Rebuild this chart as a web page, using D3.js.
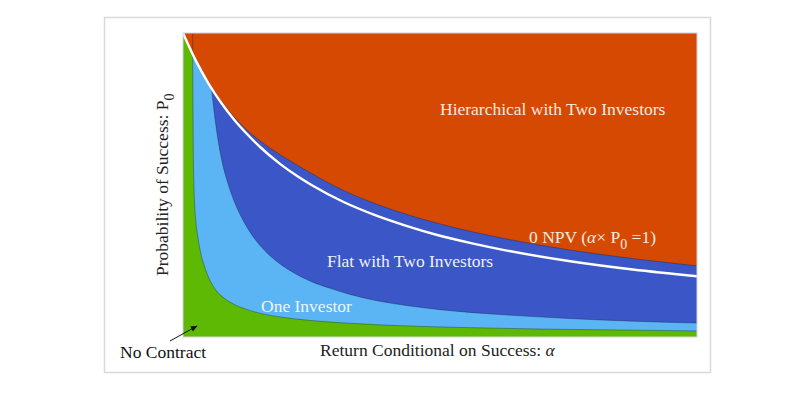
<!DOCTYPE html>
<html>
<head>
<meta charset="utf-8">
<script src="https://cdn.jsdelivr.net/npm/d3@7"></script>
<style>
  html, body { margin: 0; padding: 0; background: #ffffff; }
  svg { display: block; }
  text { font-family: "Liberation Serif", "Times New Roman", serif; }
</style>
</head>
<body>
<svg id="chart" width="800" height="393"></svg>
<script>
// ---- Data (alpha = return conditional on success, p0 = probability of success) ----
// Boundary between "No Contract" (green) and "One Investor" (light blue)
const noContractAlpha = [1.075, 1.077, 1.08, 1.085, 1.09, 1.1, 1.117, 1.14, 1.165, 1.19, 1.22, 1.26, 1.32, 1.4, 1.5, 1.62, 1.756, 2.0, 2.3, 2.7, 3.2, 3.8, 4.4, 5.0];
const noContractP0    = [1.0, 0.80, 0.62, 0.50, 0.44, 0.38, 0.325, 0.272, 0.235, 0.205, 0.178, 0.152, 0.128, 0.107, 0.090, 0.076, 0.066, 0.054, 0.045, 0.037, 0.031, 0.026, 0.023, 0.020];

// Boundary between "One Investor" (light blue) and "Flat with Two Investors" (dark blue)
const oneInvestorAlpha = [1.223, 1.25, 1.3, 1.35, 1.4, 1.46, 1.546, 1.65, 1.75, 1.858, 2.0, 2.146, 2.3, 2.5, 2.75, 3.0, 3.5, 4.0, 4.5, 5.0];
const oneInvestorP0    = [0.8125, 0.715, 0.585, 0.505, 0.445, 0.39, 0.330, 0.278, 0.242, 0.212, 0.182, 0.160, 0.140, 0.120, 0.103, 0.090, 0.073, 0.061, 0.052, 0.046];

// Boundary between "Flat with Two Investors" (dark blue) and "Hierarchical with Two Investors" (orange)
const hierAlpha = [1.0, 1.1, 1.2, 1.3, 1.45, 1.6, 1.8, 2.0, 2.25, 2.5, 2.75, 3.0, 3.5, 4.0, 4.5, 5.0];
const hierP0    = [1.0, 0.912, 0.836, 0.775, 0.700, 0.645, 0.588, 0.538, 0.482, 0.438, 0.402, 0.372, 0.324, 0.287, 0.258, 0.234];

// Zero-NPV line (alpha x P0 = 1)
const npvAlpha = [1.0, 1.1, 1.2, 1.3, 1.4, 1.5, 1.6, 1.75, 1.9, 2.0, 2.25, 2.5, 2.75, 3.0, 3.25, 3.5, 4.0, 4.5, 5.0];
const npvP0    = [1.0, 0.909, 0.833, 0.769, 0.714, 0.667, 0.625, 0.571, 0.526, 0.5, 0.444, 0.4, 0.364, 0.333, 0.308, 0.286, 0.25, 0.222, 0.2];

const alphaDomain = [1, 5];
const p0Domain = [0, 1];

const regionLabels = ["Hierarchical with Two Investors", "Flat with Two Investors", "One Investor", "No Contract"];
const xAxisTitle = "Return Conditional on Success: ";
const yAxisTitle = "Probability of Success: P";

// ---- Drawing ----
const svg = d3.select("#chart");
const plot = { left: 183, right: 697, top: 33, bottom: 337 };

const x = d3.scaleLinear().domain(alphaDomain).range([plot.left, plot.right]);
const y = d3.scaleLinear().domain(p0Domain).range([plot.bottom, plot.top]);

const colors = {
  orange: "#d54902",
  dark: "#3b56c6",
  light: "#5bb4f4",
  green: "#5db903"
};

// outer frame
svg.append("rect")
  .attr("x", 104.5).attr("y", 17.5).attr("width", 606).attr("height", 355)
  .attr("fill", "#ffffff").attr("stroke", "#d9d9d9").attr("stroke-width", 1.5);

const clipId = "plotclip";
svg.append("clipPath").attr("id", clipId)
  .append("rect").attr("x", plot.left).attr("y", plot.top)
  .attr("width", plot.right - plot.left).attr("height", plot.bottom - plot.top);

const g = svg.append("g").attr("clip-path", `url(#${clipId})`);

const zip = (a, b) => a.map((v, i) => [v, b[i]]);
const curveLine = d3.line().x(d => x(d[0])).y(d => y(d[1])).curve(d3.curveMonotoneX);

function regionPath(pts, extra) {
  const body = curveLine(pts);
  const tail = extra.map(p => `L${x(p[0])},${y(p[1])}`).join("");
  return body + tail + "Z";
}

// green background (no contract)
g.append("rect")
  .attr("x", x(alphaDomain[0])).attr("y", y(p0Domain[1]))
  .attr("width", x(alphaDomain[1]) - x(alphaDomain[0]))
  .attr("height", y(p0Domain[0]) - y(p0Domain[1]))
  .attr("fill", colors.green);

const gPts = zip(noContractAlpha, noContractP0);
g.append("path")
  .attr("d", regionPath(gPts, [[5.2, 0.020], [5.2, 1.05], [noContractAlpha[0], 1.05]]))
  .attr("fill", colors.light);

const fPts = zip(oneInvestorAlpha, oneInvestorP0);
g.append("path")
  .attr("d", regionPath(fPts, [[5.2, 0.046], [5.2, 1.05], [oneInvestorAlpha[0], 1.05]]))
  .attr("fill", colors.dark);

const hPts = zip(hierAlpha, hierP0);
g.append("path")
  .attr("d", regionPath(hPts, [[5.2, 0.234], [5.2, 1.05], [hierAlpha[0], 1.05]]))
  .attr("fill", colors.orange);

[gPts, fPts, hPts].forEach(pts => {
  g.append("path").attr("d", curveLine(pts))
    .attr("fill", "none").attr("stroke", "rgba(20,30,60,0.45)").attr("stroke-width", 0.8);
});

// zero NPV line
g.append("path")
  .attr("d", curveLine(zip(npvAlpha, npvP0)))
  .attr("fill", "none").attr("stroke", "#ffffff").attr("stroke-width", 2.4);

// plot border
svg.append("rect")
  .attr("x", plot.left).attr("y", plot.top)
  .attr("width", plot.right - plot.left).attr("height", plot.bottom - plot.top)
  .attr("fill", "none").attr("stroke", "#d4d2e0").attr("stroke-width", 1);

// region labels
const fs = 17.5;
svg.append("text").attr("x", 440).attr("y", 115)
  .attr("font-size", fs).attr("fill", "#f6ebe3").text(regionLabels[0]);

svg.append("text").attr("x", 327).attr("y", 267)
  .attr("font-size", fs).attr("fill", "#eef1fb").text(regionLabels[1]);

svg.append("text").attr("x", 261).attr("y", 312)
  .attr("font-size", fs).attr("fill", "#eef6fd").text(regionLabels[2]);

// zero NPV label
const npvText = svg.append("text").attr("x", 529).attr("y", 243)
  .attr("font-size", fs).attr("fill", "#f6ebe3");
npvText.append("tspan").text("0 NPV (");
npvText.append("tspan").attr("font-style", "italic").text("α");
npvText.append("tspan").text("× P");
npvText.append("tspan").attr("font-size", 14).attr("dy", 6).text("0");
npvText.append("tspan").attr("dy", -6).text(" =1)");

// axis titles
const xt = svg.append("text").attr("x", 320).attr("y", 356)
  .attr("font-size", fs).attr("fill", "#222222");
xt.append("tspan").text(xAxisTitle);
xt.append("tspan").attr("font-style", "italic").text("α");

const yt = svg.append("text")
  .attr("transform", "translate(168,276) rotate(-90)")
  .attr("font-size", fs).attr("fill", "#222222");
yt.append("tspan").text(yAxisTitle);
yt.append("tspan").attr("font-size", 14).attr("dy", 6).text("0");

// No contract label with arrow
svg.append("text").attr("x", 120).attr("y", 358)
  .attr("font-size", fs).attr("fill", "#111111").text(regionLabels[3]);

svg.append("defs").append("marker")
  .attr("id", "arrowhead").attr("viewBox", "0 0 10 10")
  .attr("refX", 9).attr("refY", 5)
  .attr("markerWidth", 7).attr("markerHeight", 7)
  .attr("orient", "auto")
  .append("path").attr("d", "M0,1 L10,5 L0,9 Z").attr("fill", "#111111");

svg.append("line")
  .attr("x1", 170).attr("y1", 341).attr("x2", 197).attr("y2", 326)
  .attr("stroke", "#111111").attr("stroke-width", 1)
  .attr("marker-end", "url(#arrowhead)");
</script>
</body>
</html>
